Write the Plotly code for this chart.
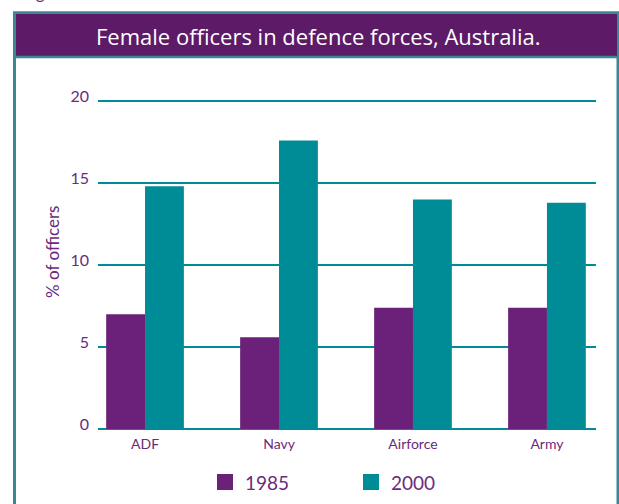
import plotly.graph_objects as go

categories = ["ADF", "Navy", "Airforce", "Army"]
series_names = ["1985", "2000"]
values_1985 = [7.0, 5.6, 7.4, 7.4]
values_2000 = [14.8, 17.6, 14.0, 13.8]
y_ticks = [0, 5, 10, 15, 20]
title_text = "Female officers in defence forces, Australia."
y_title = "% of officers"

W, H = 619, 504
PURPLE = "#6b2179"
TEAL = "#008c96"
TITLE_BG = "#5c1a67"
FRAME = "#3a8896"
TXT = "#6b2a7d"
FONT = "Lato"

def px(x):
    return x / W

def py(y):
    return 1 - y / H

fig = go.Figure()
colors = [PURPLE, TEAL]
for name, vals, col in zip(series_names, [values_1985, values_2000], colors):
    fig.add_trace(go.Bar(x=categories, y=vals, name=name, marker=dict(color=col, line=dict(width=0)),
                         showlegend=False, hoverinfo="skip"))

shapes = []
# outer frame
shapes.append(dict(type="rect", xref="paper", yref="paper", x0=px(14.5), x1=px(618), y0=py(520), y1=py(12.8),
                   line=dict(color=FRAME, width=3), fillcolor="rgba(0,0,0,0)", layer="below"))
# title bar
shapes.append(dict(type="rect", xref="paper", yref="paper", x0=px(16), x1=px(617), y0=py(56), y1=py(14),
                   line=dict(width=0), fillcolor=TITLE_BG, layer="below"))
shapes.append(dict(type="line", xref="paper", yref="paper", x0=px(16), x1=px(617), y0=py(57), y1=py(57),
                   line=dict(color=FRAME, width=2.5)))

annotations = []
annotations.append(dict(text=title_text, xref="paper", yref="paper", x=px(318), y=py(36), showarrow=False,
                        font=dict(family="Open Sans", size=22, color="white"), xanchor="center", yanchor="middle"))
annotations.append(dict(text=y_title, xref="paper", yref="paper", x=px(52), y=py(252), showarrow=False,
                        textangle=-90, font=dict(family=FONT, size=17, color=TXT), xanchor="center", yanchor="middle"))
annotations.append(dict(text="Figure", xref="paper", yref="paper", x=px(20), y=py(5), showarrow=False,
                        font=dict(family=FONT, size=17, color=TXT), xanchor="left", yanchor="bottom"))

# legend drawn manually
leg_sq_x = [217, 363]
leg_txt_x = [243, 389]
for i, (name, col) in enumerate(zip(series_names, colors)):
    shapes.append(dict(type="rect", xref="paper", yref="paper", x0=px(leg_sq_x[i]), x1=px(leg_sq_x[i] + 16),
                       y0=py(490), y1=py(474), line=dict(width=0), fillcolor=col))
    annotations.append(dict(text=name, xref="paper", yref="paper", x=px(leg_txt_x[i]), y=py(482.5), showarrow=False,
                            font=dict(family=FONT, size=19, color=TXT), xanchor="left", yanchor="middle"))

fig.update_layout(
    width=W, height=H,
    margin=dict(l=0, r=0, t=0, b=0, autoexpand=False),
    paper_bgcolor="white", plot_bgcolor="white",
    barmode="group", bargap=0.42, bargroupgap=0,
    shapes=shapes, annotations=annotations,
    showlegend=False,
    font=dict(family=FONT, color=TXT),
)
fig.update_xaxes(domain=[px(98), px(596)], range=[-0.351, 3.366], showgrid=False, zeroline=False,
                 showline=False, ticks="", tickfont=dict(family=FONT, size=14, color=TXT),
                 ticklabelstandoff=3, automargin=False)
fig.update_yaxes(domain=[py(430.6), py(99.4)], range=[-0.1, 20.1], tickvals=y_ticks,
                 showgrid=True, gridcolor=TEAL, gridwidth=2, zeroline=False, showline=False, ticks="",
                 tickfont=dict(family=FONT, size=16, color=TXT), ticklabelstandoff=8, ticklabelshift=-5,
                 automargin=False)

fig.write_html(
    "out.html",
    config={"displayModeBar": False},
    post_script="document.documentElement.style.margin='0';document.body.style.margin='0';"
                "document.documentElement.style.overflow='hidden';document.body.style.overflow='hidden';",
)
